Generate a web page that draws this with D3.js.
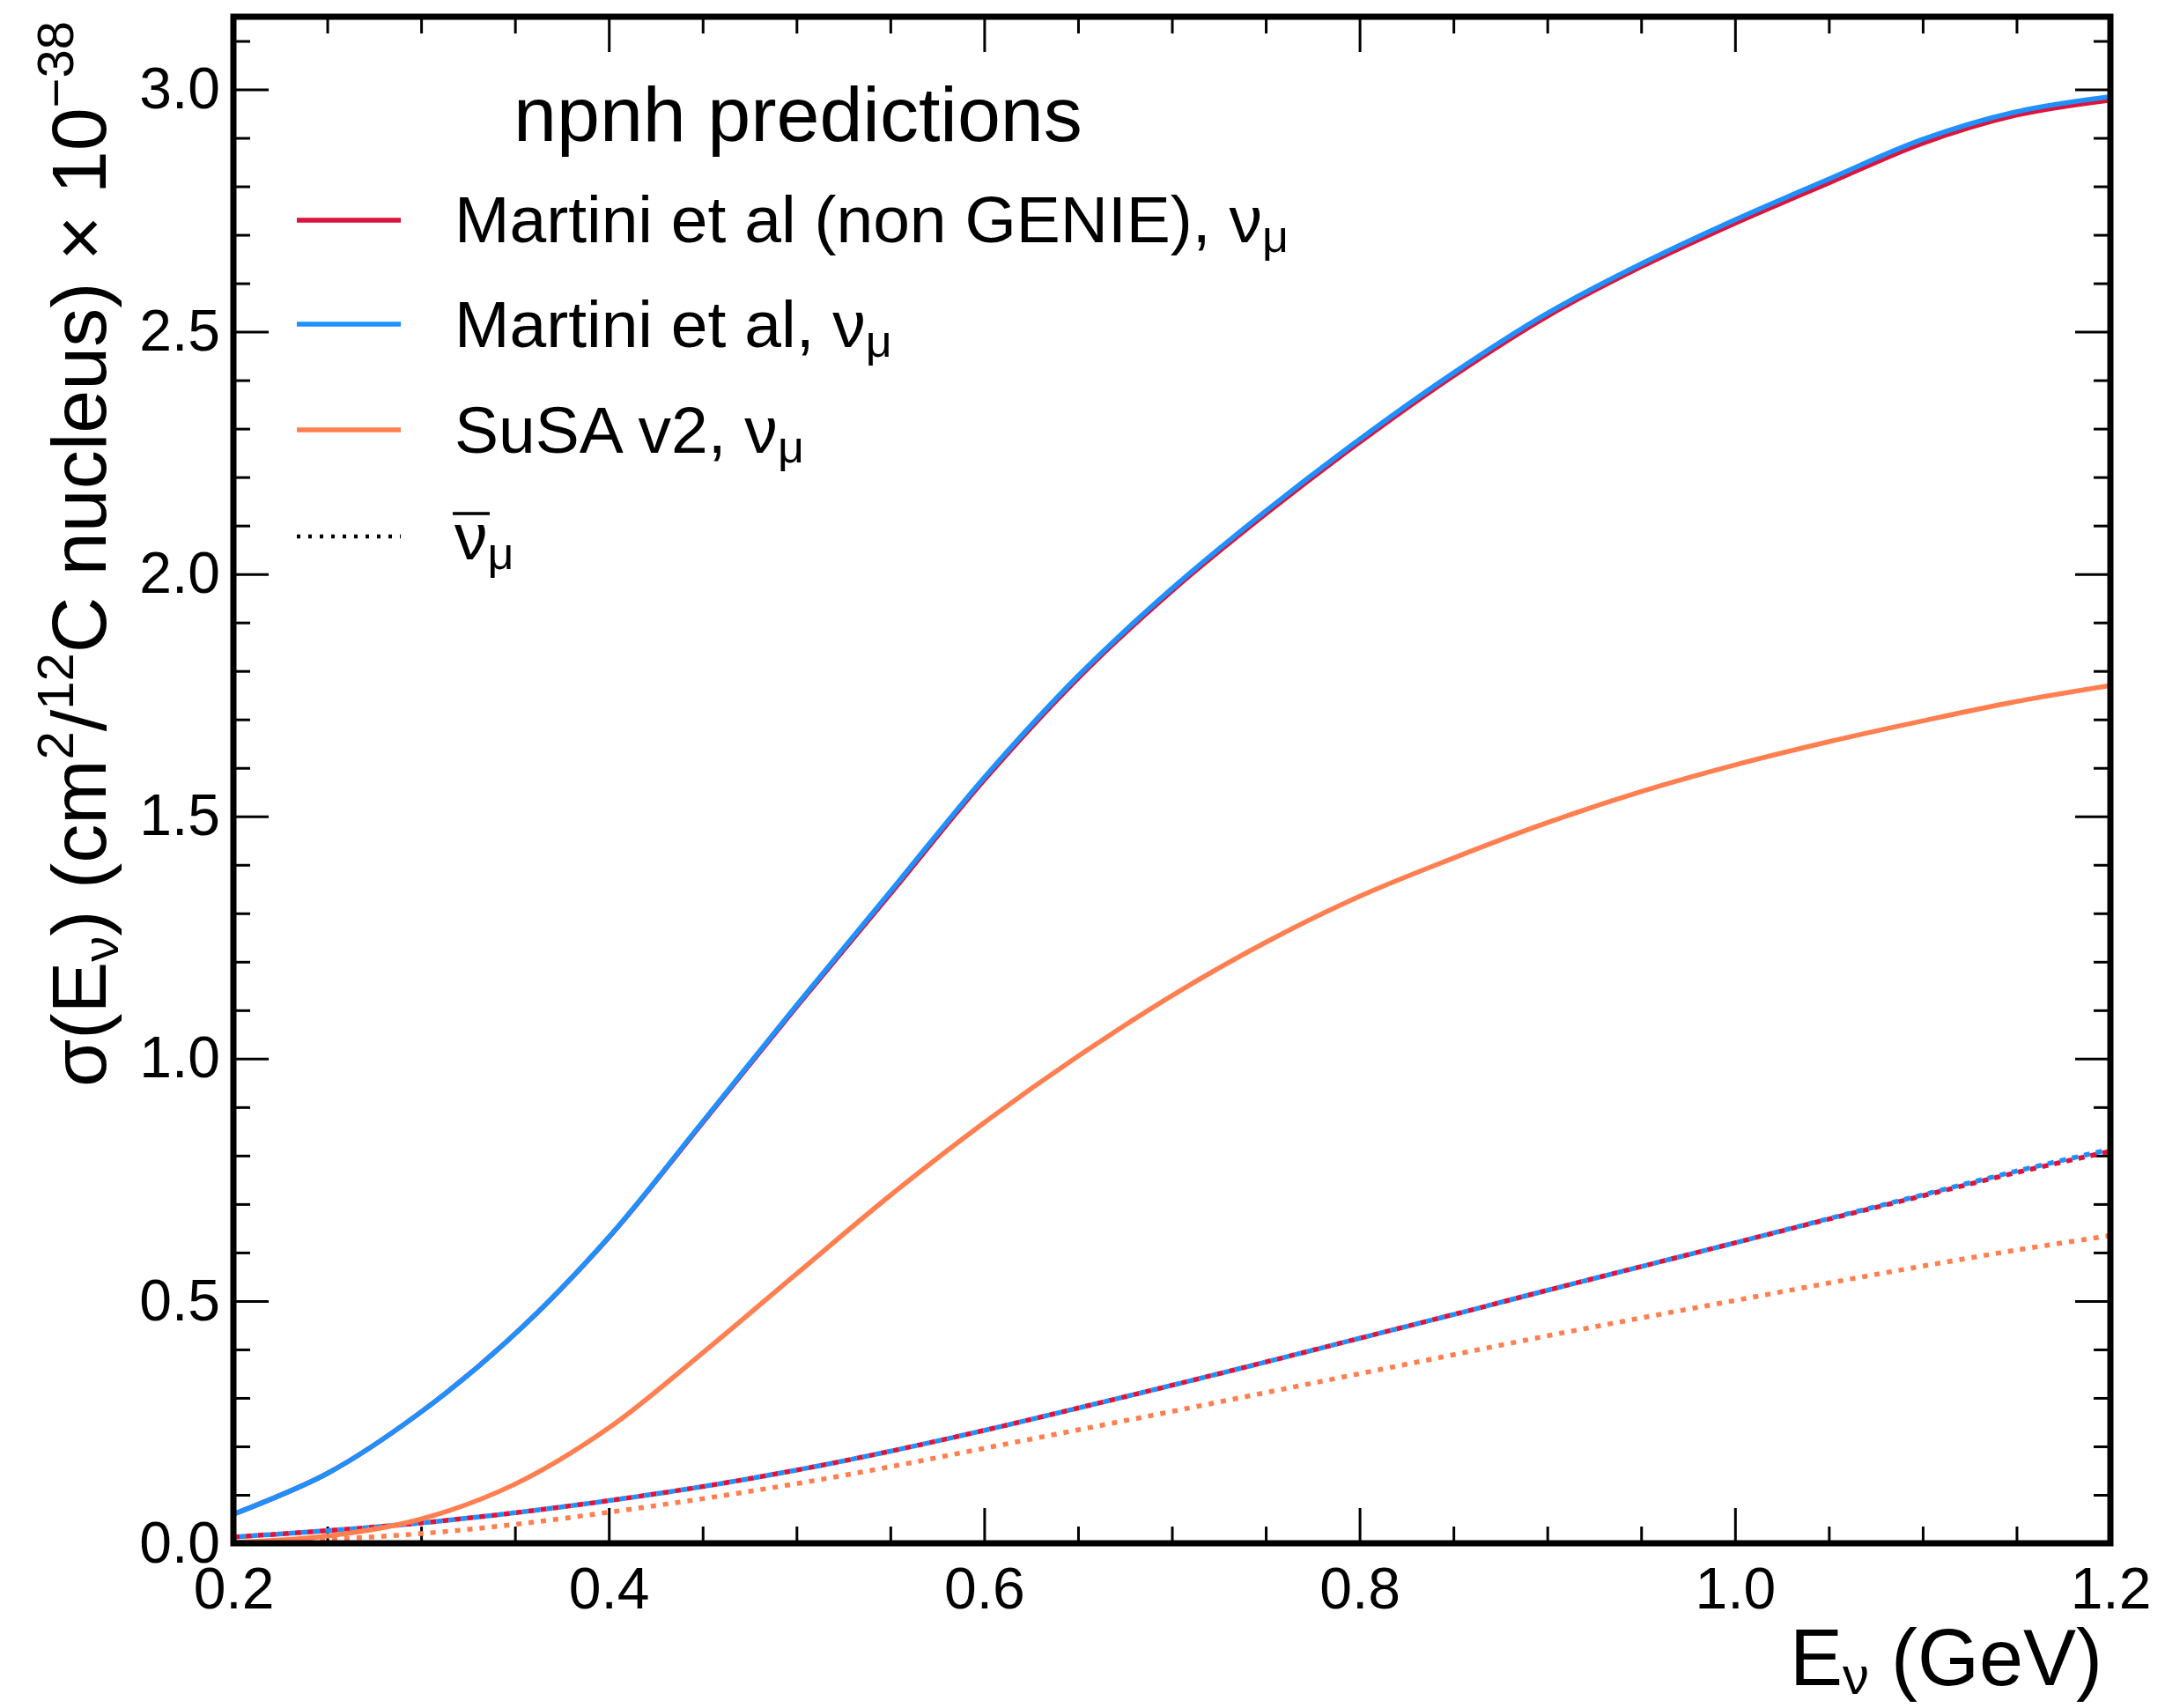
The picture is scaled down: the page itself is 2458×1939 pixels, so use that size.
<!DOCTYPE html>
<html>
<head>
<meta charset="utf-8">
<script src="https://cdn.jsdelivr.net/npm/d3@7"></script>
<style>
  html, body { margin: 0; padding: 0; background: #fff; }
  svg { display: block; }
  text { font-family: "Liberation Sans", Arial, Helvetica, sans-serif; fill: #000; }
</style>
</head>
<body>
<svg id="chart" width="2458" height="1939"></svg>
<script>
// Neutrino energy grid (GeV)
const energy = [0.20, 0.25, 0.30, 0.35, 0.40, 0.45, 0.50, 0.55, 0.60, 0.65, 0.70,
                0.75, 0.80, 0.85, 0.90, 0.95, 1.00, 1.05, 1.10, 1.15, 1.20];

// npnh cross sections, 10^-38 cm^2 per 12C nucleus
const martiniNonGenieNu = [0.060, 0.144, 0.271, 0.432, 0.631, 0.868, 1.107, 1.340, 1.575, 1.785, 1.965,
                           2.124, 2.272, 2.409, 2.532, 2.634, 2.724, 2.807, 2.889, 2.947, 2.978];
const martiniNu         = [0.060, 0.144, 0.271, 0.432, 0.632, 0.870, 1.110, 1.345, 1.580, 1.790, 1.970,
                           2.130, 2.278, 2.415, 2.538, 2.640, 2.731, 2.815, 2.897, 2.954, 2.985];
const susaNu            = [0.002, 0.015, 0.050, 0.122, 0.238, 0.393, 0.556, 0.718, 0.868, 1.005, 1.130,
                           1.240, 1.335, 1.414, 1.487, 1.551, 1.606, 1.654, 1.697, 1.737, 1.770];
const martiniNonGenieAnti = [0.013, 0.026, 0.042, 0.063, 0.088, 0.117, 0.151, 0.190, 0.233, 0.279, 0.326,
                             0.374, 0.423, 0.472, 0.522, 0.571, 0.620, 0.669, 0.717, 0.765, 0.809];
const martiniAnti       = [0.013, 0.026, 0.042, 0.063, 0.088, 0.117, 0.151, 0.190, 0.233, 0.279, 0.326,
                           0.374, 0.423, 0.472, 0.522, 0.571, 0.620, 0.670, 0.719, 0.768, 0.813];
const susaAnti          = [0.000, 0.008, 0.020, 0.039, 0.064, 0.092, 0.123, 0.158, 0.196, 0.234, 0.272,
                           0.311, 0.350, 0.389, 0.428, 0.465, 0.501, 0.537, 0.572, 0.605, 0.635];

// Axis ticks
const xMajorTicks = [0.2, 0.4, 0.6, 0.8, 1.0, 1.2];
const yMajorTicks = [0.0, 0.5, 1.0, 1.5, 2.0, 2.5, 3.0];
const xDomain = [0.2, 1.2];
const yDomain = [0, 3.15];

// Legend entries
const legendTitle = "npnh predictions";
const legendLabels = ["Martini et al (non GENIE), ", "Martini et al, ", "SuSA v2, "];

const colors = { red: "#dc143c", blue: "#1e90ff", orange: "#ff7f50" };

const svg = d3.select("#chart");
const frame = { left: 265, right: 2396, top: 19, bottom: 1752 };

const x = d3.scaleLinear().domain(xDomain).range([frame.left, frame.right]);
const y = d3.scaleLinear().domain(yDomain).range([frame.bottom, frame.top]);

svg.append("rect").attr("width", 2458).attr("height", 1939).attr("fill", "#fff");

svg.append("defs").append("clipPath").attr("id", "plotClip")
  .append("rect")
  .attr("x", frame.left).attr("y", frame.top)
  .attr("width", frame.right - frame.left).attr("height", frame.bottom - frame.top);

// Minor tick positions
const xMinorTicks = d3.range(0, 21).map(i => +(0.2 + i * 0.05).toFixed(2))
  .filter(v => !xMajorTicks.some(m => Math.abs(m - v) < 1e-9));
const yMinorTicks = d3.range(0, 32).map(i => +(i * 0.1).toFixed(1))
  .filter(v => v <= yDomain[1] && !yMajorTicks.some(m => Math.abs(m - v) < 1e-9));

const majorLen = 40, minorLen = 19;
const fmt = d3.format(".1f");

function styleAxis(g) {
  g.select(".domain").remove();
  g.selectAll(".tick line").attr("stroke", "#000").attr("stroke-width", 3);
  g.selectAll(".tick text").attr("font-size", 66).attr("fill", "#000")
    .attr("font-family", "\"Liberation Sans\", Arial, Helvetica, sans-serif");
}

// Bottom axis
svg.append("g").attr("transform", `translate(0,${frame.bottom})`)
  .call(d3.axisBottom(x).tickValues(xMajorTicks).tickSize(-majorLen).tickPadding(27).tickFormat(fmt))
  .call(styleAxis);
svg.append("g").attr("transform", `translate(0,${frame.bottom})`)
  .call(d3.axisBottom(x).tickValues(xMinorTicks).tickSize(-minorLen).tickFormat(""))
  .call(styleAxis);
// Top axis (mirror ticks)
svg.append("g").attr("transform", `translate(0,${frame.top})`)
  .call(d3.axisTop(x).tickValues(xMajorTicks).tickSize(-majorLen).tickFormat(""))
  .call(styleAxis);
svg.append("g").attr("transform", `translate(0,${frame.top})`)
  .call(d3.axisTop(x).tickValues(xMinorTicks).tickSize(-minorLen).tickFormat(""))
  .call(styleAxis);
// Left axis
svg.append("g").attr("transform", `translate(${frame.left},0)`)
  .call(d3.axisLeft(y).tickValues(yMajorTicks).tickSize(-majorLen).tickPadding(15).tickFormat(fmt))
  .call(styleAxis);
svg.append("g").attr("transform", `translate(${frame.left},0)`)
  .call(d3.axisLeft(y).tickValues(yMinorTicks).tickSize(-minorLen).tickFormat(""))
  .call(styleAxis);
// Right axis (mirror ticks)
svg.append("g").attr("transform", `translate(${frame.right},0)`)
  .call(d3.axisRight(y).tickValues(yMajorTicks).tickSize(-majorLen).tickFormat(""))
  .call(styleAxis);
svg.append("g").attr("transform", `translate(${frame.right},0)`)
  .call(d3.axisRight(y).tickValues(yMinorTicks).tickSize(-minorLen).tickFormat(""))
  .call(styleAxis);

// Curves
const line = d3.line()
  .x((d, i) => x(energy[i]))
  .y(d => y(d))
  .curve(d3.curveCatmullRom.alpha(0.5));

const curves = svg.append("g").attr("clip-path", "url(#plotClip)");

const series = [
  { values: susaAnti, color: colors.orange, dash: "6,8", offset: 0, width: 5.5 },
  { values: martiniNonGenieAnti, color: colors.red, dash: "7,7", offset: 0, width: 5.5 },
  { values: martiniAnti, color: colors.blue, dash: "7,7", offset: 7, width: 5.5 },
  { values: susaNu, color: colors.orange, dash: null, offset: 0, width: 5.5 },
  { values: martiniNonGenieNu, color: colors.red, dash: null, offset: 0, width: 5.5 },
  { values: martiniNu, color: colors.blue, dash: null, offset: 0, width: 5.5 }
];

series.forEach(s => {
  curves.append("path")
    .datum(s.values)
    .attr("d", line)
    .attr("fill", "none")
    .attr("stroke", s.color)
    .attr("stroke-width", s.width)
    .attr("stroke-dasharray", s.dash)
    .attr("stroke-dashoffset", s.offset);
});

// Frame
svg.append("rect")
  .attr("x", frame.left).attr("y", frame.top)
  .attr("width", frame.right - frame.left).attr("height", frame.bottom - frame.top)
  .attr("fill", "none").attr("stroke", "#000").attr("stroke-width", 7);

// Legend
const legend = svg.append("g");
legend.append("text").attr("x", 583).attr("y", 160).attr("font-size", 88).text(legendTitle);

const legendRows = [
  { y: 250, base: 275, color: colors.red, label: legendLabels[0] },
  { y: 368, base: 394, color: colors.blue, label: legendLabels[1] },
  { y: 488, base: 514, color: colors.orange, label: legendLabels[2] }
];

legendRows.forEach(r => {
  legend.append("line")
    .attr("x1", 337).attr("x2", 455).attr("y1", r.y).attr("y2", r.y)
    .attr("stroke", r.color).attr("stroke-width", 5.3);
  const t = legend.append("text").attr("x", 516).attr("y", r.base).attr("font-size", 75);
  t.append("tspan").text(r.label + "ν");
  t.append("tspan").attr("font-size", 52).attr("dy", 11).text("μ");
});

// Antineutrino style entry
legend.append("line")
  .attr("x1", 337).attr("x2", 455).attr("y1", 609).attr("y2", 609)
  .attr("stroke", "#000").attr("stroke-width", 4.5).attr("stroke-dasharray", "4,9");
const nubar = legend.append("text").attr("x", 516).attr("y", 635).attr("font-size", 75);
nubar.append("tspan").text("ν");
nubar.append("tspan").attr("font-size", 52).attr("dy", 11).text("μ");
legend.append("line")
  .attr("x1", 514).attr("x2", 556).attr("y1", 583).attr("y2", 583)
  .attr("stroke", "#000").attr("stroke-width", 3.5);

// Axis titles
const xTitle = svg.append("text")
  .attr("x", 2387).attr("y", 1913).attr("text-anchor", "end").attr("font-size", 90);
xTitle.append("tspan").text("E");
xTitle.append("tspan").attr("font-size", 60).attr("dy", 10).text("ν");
xTitle.append("tspan").attr("dy", -10).text(" (GeV)");

const yTitle = svg.append("text")
  .attr("transform", "translate(120,24) rotate(-90)")
  .attr("text-anchor", "end").attr("font-size", 88);
yTitle.append("tspan").text("σ(E");
yTitle.append("tspan").attr("font-size", 58).attr("dy", 14).text("ν");
yTitle.append("tspan").attr("dy", -14).text(") (cm");
yTitle.append("tspan").attr("font-size", 58).attr("dy", -37).text("2");
yTitle.append("tspan").attr("dy", 37).text("/");
yTitle.append("tspan").attr("font-size", 58).attr("dy", -37).text("12");
yTitle.append("tspan").attr("dy", 37).text("C nucleus) × 10");
yTitle.append("tspan").attr("font-size", 58).attr("dy", -37).text("−38");
</script>
</body>
</html>
